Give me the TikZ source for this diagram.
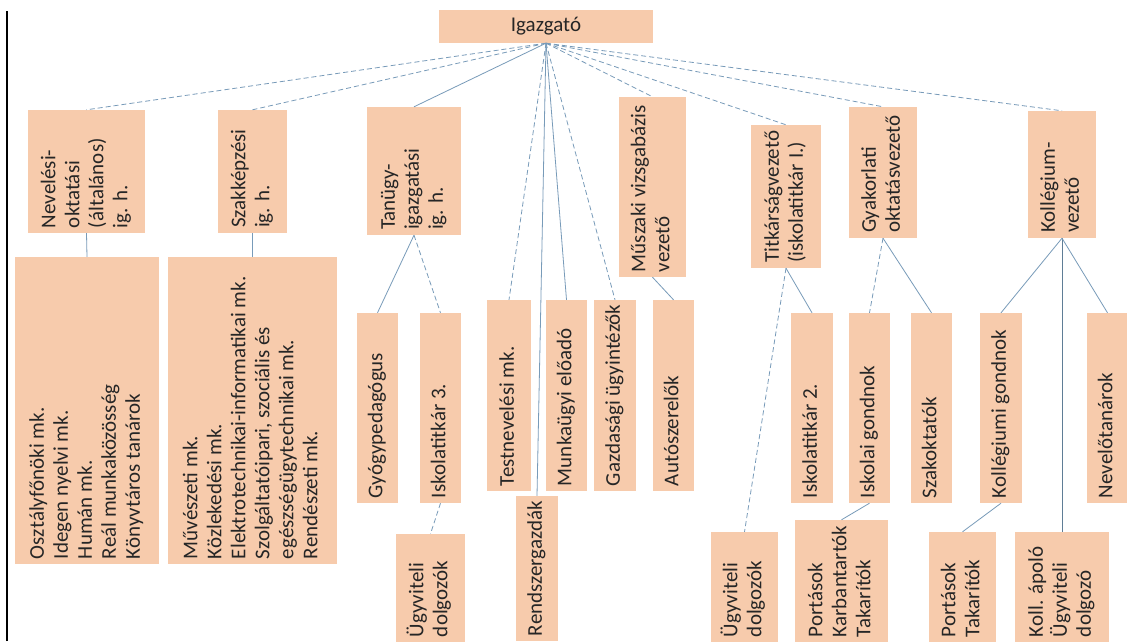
\documentclass[tikz,border=0pt]{standalone}
\usepackage{graphicx}
\usepackage{fontspec}
\setmainfont{Carlito}
\definecolor{boxfill}{RGB}{247,203,172}
\definecolor{linec}{RGB}{120,155,185}
\definecolor{linedark}{RGB}{95,125,150}
\newcommand{\vt}[2]{\rotatebox{90}{\makebox[#1][l]{\begin{tabular}{@{}l@{}}#2\end{tabular}}}}
\tikzset{
  box/.style={fill=boxfill, draw=none, inner sep=0pt, font=\fontsize{21}{24}\selectfont, text=black!85},
  link/.style={draw=linec, line width=0.8pt},
  dlink/.style={link, dash pattern=on 5pt off 3pt},
}
\begin{document}
\begin{tikzpicture}[x=1pt,y=1pt]
\useasboundingbox (0,0) rectangle (1127,641);
\fill[white] (0,0) rectangle (1127,641);
\draw[black, line width=1.2pt] (7,0) -- (7,630);

% top
\node[box, minimum width=214pt, minimum height=33pt] (ig) at (546,614.5) {Igazgató};

% row 1
\node[box, minimum width=117pt, minimum height=123pt] (nev) at (86.5,469.5) {\vt{113pt}{Nevelési-\\oktatási\\(általános)\\ig. h.}};
\node[box, minimum width=69pt, minimum height=123pt] (szak) at (252.5,469.5) {\vt{113pt}{Szakképzési\\ig. h.}};
\node[box, minimum width=94pt, minimum height=128pt] (tan) at (414,470) {\vt{118pt}{Tanügy-\\igazgatási\\ig. h.}};
\node[box, minimum width=67pt, minimum height=180pt] (musz) at (652.5,454) {\vt{170pt}{Műszaki vizsgabázis\\vezető}};
\node[box, minimum width=70pt, minimum height=143pt] (titk) at (786,444.5) {\vt{133pt}{Titkárságvezető\\(iskolatitkár I.)}};
\node[box, minimum width=68pt, minimum height=131pt] (gyak) at (883,468.5) {\vt{121pt}{Gyakorlati\\oktatásvezető}};
\node[box, minimum width=68pt, minimum height=127pt] (koll) at (1062,466.5) {\vt{117pt}{Kollégium-\\vezető}};

% row 2
\node[box, minimum width=144pt, minimum height=307pt] (oszt) at (87,230.5) {\vt{297pt}{Osztályfőnöki mk.\\Idegen nyelvi mk.\\Humán mk.\\Reál munkaközösség\\Könyvtáros tanárok}};
\node[box, minimum width=169pt, minimum height=307pt] (muv) at (252.5,230.5) {\vt{297pt}{Művészeti mk.\\Közlekedési mk.\\Elektrotechnikai-informatikai mk.\\Szolgáltatóipari, szociális és\\egészségügytechnikai mk.\\Rendészeti mk.}};
\node[box, minimum width=41pt, minimum height=190pt] (gyogy) at (377.5,233) {\vt{180pt}{Gyógypedagógus}};
\node[box, minimum width=41pt, minimum height=190pt] (isk3) at (440.5,233) {\vt{180pt}{Iskolatitkár 3.}};
\node[box, minimum width=44pt, minimum height=191pt] (test) at (509,245.5) {\vt{181pt}{Testnevelési mk.}};
\node[box, minimum width=41pt, minimum height=191pt] (munk) at (566.5,245.5) {\vt{181pt}{Munkaügyi előadó}};
\node[box, minimum width=42pt, minimum height=191pt] (gazd) at (615,245.5) {\vt{181pt}{Gazdasági ügyintézők}};
\node[box, minimum width=41pt, minimum height=191pt] (auto) at (673.5,245.5) {\vt{181pt}{Autószerelők}};
\node[box, minimum width=42pt, minimum height=145pt] (rend) at (537,72.5) {\vt{135pt}{Rendszergazdák}};
\node[box, minimum width=42pt, minimum height=190pt] (isk2) at (812,233) {\vt{180pt}{Iskolatitkár 2.}};
\node[box, minimum width=41pt, minimum height=190pt] (iskg) at (869.5,233) {\vt{180pt}{Iskolai gondnok}};
\node[box, minimum width=41pt, minimum height=190pt] (szakokt) at (931.5,233) {\vt{180pt}{Szakoktatók}};
\node[box, minimum width=42pt, minimum height=190pt] (kollg) at (1001,233) {\vt{180pt}{Kollégiumi gondnok}};
\node[box, minimum width=41pt, minimum height=190pt] (nevt) at (1107.5,233) {\vt{180pt}{Nevelőtanárok}};

% row 3
\node[box, minimum width=69pt, minimum height=108pt] (ugy1) at (430.5,53) {\vt{98pt}{Ügyviteli\\dolgozók}};
\node[box, minimum width=67pt, minimum height=110pt] (ugy2) at (744.5,54) {\vt{100pt}{Ügyviteli\\dolgozók}};
\node[box, minimum width=93pt, minimum height=122pt] (port1) at (841.5,60) {\vt{112pt}{Portások\\Karbantartók\\Takarítók}};
\node[box, minimum width=67pt, minimum height=110pt] (port2) at (962.5,54) {\vt{100pt}{Portások\\Takarítók}};
\node[box, minimum width=94pt, minimum height=110pt] (kap) at (1062,54) {\vt{100pt}{Koll. ápoló\\Ügyviteli\\dolgozó}};

% connectors from Igazgató
\draw[dlink] (ig.south) -- (nev.north);
\draw[dlink] (ig.south) -- (szak.north);
\draw[link] (ig.south) -- (tan.north);
\draw[dlink] (ig.south) -- (test.north);
\draw[link] (ig.south) -- (rend.north);
\draw[link] (ig.south) -- (munk.north);
\draw[dlink] (ig.south) -- (gazd.north);
\draw[dlink] (ig.south) -- (musz.north);
\draw[dlink] (ig.south) -- (titk.north);
\draw[dlink] (ig.south) -- (gyak.north);
\draw[dlink] (ig.south) -- (koll.north);

% lower connectors
\draw[link] (nev.south) -- (oszt.north);
\draw[link] (szak.south) -- (muv.north);
\draw[link] (tan.south) -- (gyogy.north);
\draw[dlink] (tan.south) -- (isk3.north);
\draw[dlink] (isk3.south) -- (ugy1.north);
\draw[link] (musz.south) -- (auto.north);
\draw[link] (titk.south) -- (isk2.north);
\draw[dlink] (titk.south) -- (ugy2.north);
\draw[dlink] (gyak.south) -- (iskg.north);
\draw[link] (gyak.south) -- (szakokt.north);
\draw[link] (iskg.south) -- (port1.north);
\draw[link] (koll.south) -- (kollg.north);
\draw[link, draw=linedark] (koll.south) -- (kap.north);
\draw[link] (koll.south) -- (nevt.north);
\draw[link] (kollg.south) -- (port2.north);
\end{tikzpicture}
\end{document}
